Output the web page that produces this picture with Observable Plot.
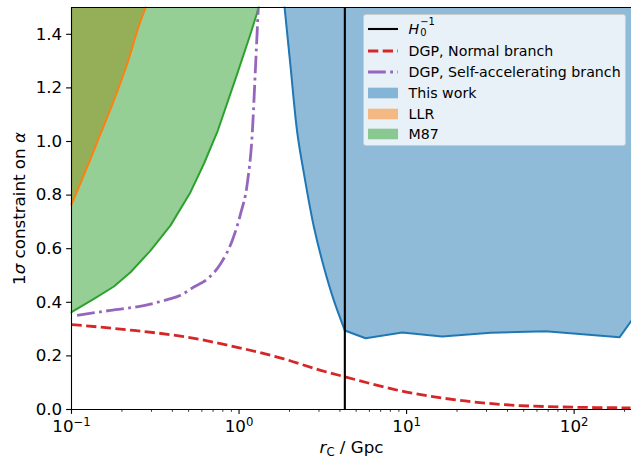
<!DOCTYPE html>
<html><head><meta charset="utf-8">
<script src="https://cdn.jsdelivr.net/npm/d3@7"></script>
<script src="https://cdn.jsdelivr.net/npm/@observablehq/plot@0.6"></script>
<style>
html,body{margin:0;padding:0;background:#fff;}
#wrap{position:relative;width:631px;height:459px;font-family:"DejaVu Sans",sans-serif;overflow:hidden;}
#legend{position:absolute;left:363px;top:14px;width:263px;height:132px;background:rgba(255,255,255,0.8);border:1px solid #cccccc;border-radius:3px;box-sizing:border-box;}
.row{position:absolute;left:4px;height:16px;display:flex;align-items:center;font-size:14.2px;color:#000;white-space:nowrap;}
.row svg{width:30px;height:16px;margin-right:10.6px;flex:none;}
</style></head>
<body><div id="wrap"></div>
<script>
// ---- data ----
const H0inv = 4.28; // Gpc

const dgpNormalX = [0.1, 0.2355, 0.468, 0.931, 1.85, 3.07, 4.22, 10, 23, 57.5, 217];
const dgpNormalY = [0.317, 0.295, 0.272, 0.235, 0.189, 0.146, 0.123, 0.065, 0.031, 0.0123, 0.006];

const dgpSelfX = [0.108, 0.171, 0.270, 0.373, 0.448, 0.537, 0.646, 0.776, 0.911, 1.021, 1.119, 1.199, 1.254, 1.302];
const dgpSelfY = [0.351, 0.370, 0.388, 0.410, 0.426, 0.457, 0.487, 0.544, 0.631, 0.730, 0.842, 1.029, 1.278, 1.496];

// "This work": steep branch (smooth) and flat branch (piecewise)
const thisWorkSteepX = [1.87, 2.03, 2.23, 2.44, 2.80, 3.21, 3.68, 4.28];
const thisWorkSteepY = [1.5, 1.279, 1.029, 0.88, 0.68, 0.531, 0.407, 0.295];
const thisWorkFlatX = [4.28, 5.69, 9.42, 16.3, 31.7, 67.6, 187, 220];
const thisWorkFlatY = [0.295, 0.266, 0.287, 0.272, 0.286, 0.292, 0.27, 0.332];

const llrX = [0.1, 0.124, 0.149, 0.179, 0.215, 0.252, 0.277];
const llrY = [0.765, 0.904, 1.029, 1.153, 1.29, 1.43, 1.5];

const m87X = [0.1, 0.136, 0.179, 0.225, 0.296, 0.390, 0.513, 0.617, 0.747, 0.976, 1.171, 1.312];
const m87Y = [0.363, 0.413, 0.459, 0.512, 0.593, 0.687, 0.811, 0.917, 1.041, 1.253, 1.402, 1.5];

const xMajorTicks = [0.1, 1, 10, 100];
const xMinorTicks = [0.2,0.3,0.4,0.5,0.6,0.7,0.8,0.9, 2,3,4,5,6,7,8,9, 20,30,40,50,60,70,80,90, 200];
const yTicks = [0, 0.2, 0.4, 0.6, 0.8, 1.0, 1.2, 1.4];
const xDomain = [0.1, 220];
const yDomain = [0, 1.5];

const yLabel = "1σ constraint on α";
const xLabel = "r_C / Gpc";

const colors = {h0: "#000000", normal: "#d62728", self: "#9467bd", work: "#1f77b4", llr: "#ff7f0e", m87: "#2ca02c"};

// ---- build ----
const rows = (xs, ys) => xs.map((x, i) => ({x, y: ys[i]}));
const workSteep = rows(thisWorkSteepX, thisWorkSteepY);
const workFlat = rows(thisWorkFlatX, thisWorkFlatY);
const llr = rows(llrX, llrY);
const m87 = rows(m87X, m87Y);
const normal = rows(dgpNormalX, dgpNormalY);
const self = rows(dgpSelfX, dgpSelfY);
const yTop = yDomain[1];
const FS_LABEL = 16.7;
const FS_TICK = 16.7;

const chart = Plot.plot({
  width: 631, height: 459,
  marginLeft: 71, marginRight: 0, marginTop: 7, marginBottom: 50,
  style: {fontFamily: "DejaVu Sans, sans-serif", fontSize: FS_LABEL + "px", background: "white", color: "black", overflow: "visible"},
  x: {type: "log", domain: xDomain},
  y: {domain: yDomain},
  marks: [
    Plot.areaY(workSteep, {x: "x", y1: "y", y2: yTop, fill: colors.work, fillOpacity: 0.5, curve: "catmull-rom"}),
    Plot.areaY(workFlat, {x: "x", y1: "y", y2: yTop, fill: colors.work, fillOpacity: 0.5}),
    Plot.areaY(llr, {x: "x", y1: "y", y2: yTop, fill: colors.llr, fillOpacity: 0.5, curve: "catmull-rom"}),
    Plot.areaY(m87, {x: "x", y1: "y", y2: yTop, fill: colors.m87, fillOpacity: 0.5}),
    Plot.line(workSteep, {x: "x", y: "y", stroke: colors.work, strokeWidth: 2, curve: "catmull-rom"}),
    Plot.line(workFlat, {x: "x", y: "y", stroke: colors.work, strokeWidth: 2}),
    Plot.line(llr, {x: "x", y: "y", stroke: colors.llr, strokeWidth: 2, curve: "catmull-rom"}),
    Plot.line(m87, {x: "x", y: "y", stroke: colors.m87, strokeWidth: 2}),
    Plot.line(normal, {x: "x", y: "y", stroke: colors.normal, strokeWidth: 2.8, strokeDasharray: "10.3,4.4", strokeLinecap: "butt", curve: "monotone-x"}),
    Plot.line(self, {x: "x", y: "y", stroke: colors.self, strokeWidth: 2.8, strokeDasharray: "17.8,4.4,2.8,4.4", strokeLinecap: "butt", curve: "monotone-x"}),
    Plot.ruleX([H0inv], {stroke: colors.h0, strokeWidth: 2.1}),
    Plot.ruleX([xDomain[0]], {stroke: "black", strokeWidth: 1.1}),
    Plot.ruleY([yDomain[0], yDomain[1]], {stroke: "black", strokeWidth: 1.1}),
    Plot.axisX({ticks: xMajorTicks, tickSize: 4.9, tickPadding: 6, strokeWidth: 1.1,
      tickFormat: d => "10^" + Math.round(Math.log10(d)),
      label: xLabel, labelAnchor: "center", labelOffset: 43, labelArrow: "none"}),
    Plot.axisX({ticks: xMinorTicks, tickSize: 2.8, strokeWidth: 0.8, tickFormat: () => "", label: null}),
    Plot.axisY({ticks: yTicks, tickSize: 4.9, tickPadding: 4.4, strokeWidth: 1.1,
      tickFormat: d3.format(".1f"),
      label: yLabel, labelAnchor: "center", labelOffset: 58, labelArrow: "none"})
  ]
});

// ---- rich text post-processing (still real text) ----
const svg = d3.select(chart);
svg.selectAll("text").each(function() {
  const t = d3.select(this);
  const s = this.textContent;
  t.style("font-family", "DejaVu Sans, sans-serif");
  const m = s.match(/^10\^(-?\d+)$/);
  if (m) {
    t.style("font-size", FS_TICK + "px");
    t.text(null);
    t.append("tspan").text("10");
    t.append("tspan").attr("dy", "-6.5").style("font-size", "11.7px").text(m[1].replace("-", "\u2212"));
  } else if (s === yLabel) {
    t.style("font-size", FS_LABEL + "px");
    t.text(null);
    t.append("tspan").text("1");
    t.append("tspan").attr("font-style", "italic").text("σ");
    t.append("tspan").text(" constraint on ");
    t.append("tspan").attr("font-style", "italic").text("α");
  } else if (s === xLabel) {
    t.style("font-size", FS_LABEL + "px");
    t.text(null);
    t.append("tspan").attr("font-style", "italic").text("r");
    t.append("tspan").attr("dy", "3").style("font-size", "11.7px").text("C");
    t.append("tspan").attr("dy", "-3").text(" / Gpc");
  } else if (/^\d\.\d$/.test(s)) {
    t.style("font-size", FS_TICK + "px");
  }
});

const wrap = document.getElementById("wrap");
wrap.appendChild(chart);

// ---- legend ----
const legendItems = [
  {label: '<i>H</i><span style="position:relative;display:inline-block;width:15px;height:16px;vertical-align:-3px;"><span style="position:absolute;left:1px;top:-5px;font-size:9.9px;">\u22121</span><span style="position:absolute;left:1px;top:6px;font-size:9.9px;">0</span></span>', kind: "line", color: colors.h0, dash: null, top: 5.7},
  {label: "DGP, Normal branch", kind: "line", color: colors.normal, dash: "10.3,4.4", top: 28},
  {label: "DGP, Self-accelerating branch", kind: "line", color: colors.self, dash: "17.8,4.4,2.8,4.4", top: 48.7},
  {label: "This work", kind: "patch", color: colors.work, top: 69.7},
  {label: "LLR", kind: "patch", color: colors.llr, top: 90.7},
  {label: "M87", kind: "patch", color: colors.m87, top: 111.3}
];
const legend = document.createElement("div");
legend.id = "legend";
for (const it of legendItems) {
  const row = document.createElement("div");
  row.className = "row";
  row.style.top = it.top + "px";
  let handle;
  if (it.kind === "line") {
    const w = it.color === colors.h0 ? 2.1 : 2.8;
    handle = `<svg viewBox="0 0 30 16"><line x1="0" y1="8" x2="30" y2="8" stroke="${it.color}" stroke-width="${w}" ${it.dash ? `stroke-dasharray="${it.dash}"` : ""} stroke-linecap="butt"/></svg>`;
  } else {
    handle = `<svg viewBox="0 0 30 16"><rect x="0" y="2.7" width="30" height="10.6" fill="${it.color}" fill-opacity="0.5"/></svg>`;
  }
  row.innerHTML = handle + `<span>${it.label}</span>`;
  legend.appendChild(row);
}
wrap.appendChild(legend);
</script>
</body></html>
